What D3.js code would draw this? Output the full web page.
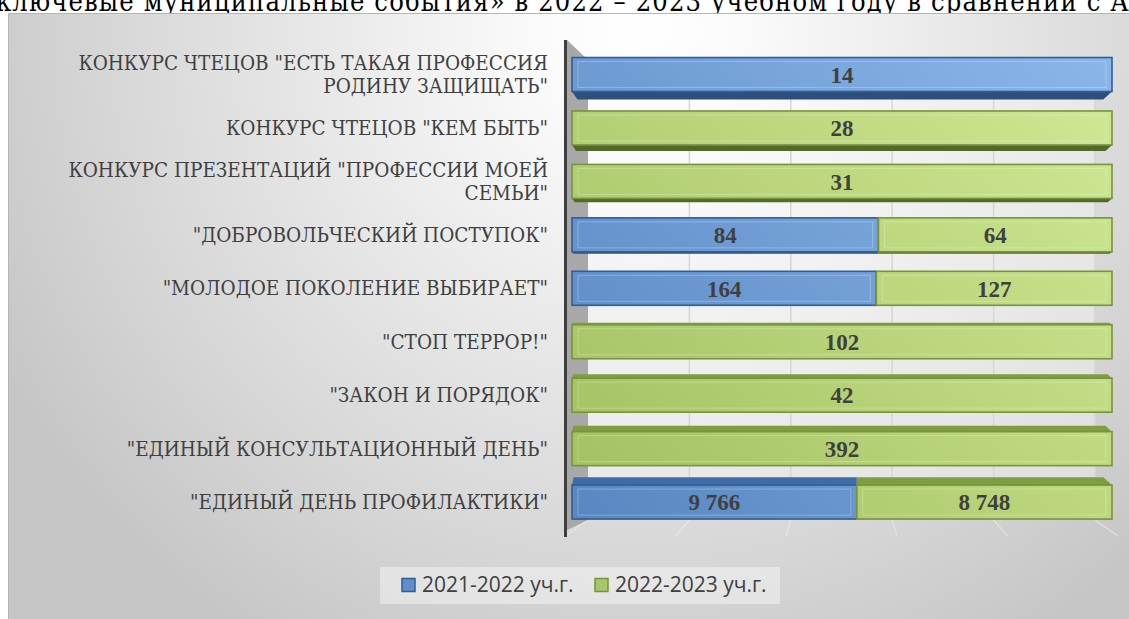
<!DOCTYPE html>
<html>
<head>
<meta charset="utf-8">
<script src="https://cdn.jsdelivr.net/npm/d3@7"></script>
<style>
    html, body { margin: 0; padding: 0; background: #ffffff; overflow: hidden; }
    .cyrSerif { font-family: 'DejaVu Serif', serif; font-stretch: condensed; }
    .numSerif { font-family: 'Liberation Serif', 'DejaVu Serif', serif; }
</style>
</head>
<body>
<div id="chart"></div>
<script>
//
// 100% stacked 3D-style bar chart
//

var categories = [
    'КОНКУРС ЧТЕЦОВ "ЕСТЬ ТАКАЯ ПРОФЕССИЯ|РОДИНУ ЗАЩИЩАТЬ"',
    'КОНКУРС ЧТЕЦОВ "КЕМ БЫТЬ"',
    'КОНКУРС ПРЕЗЕНТАЦИЙ "ПРОФЕССИИ МОЕЙ|СЕМЬИ"',
    '"ДОБРОВОЛЬЧЕСКИЙ ПОСТУПОК"',
    '"МОЛОДОЕ ПОКОЛЕНИЕ ВЫБИРАЕТ"',
    '"СТОП ТЕРРОР!"',
    '"ЗАКОН И ПОРЯДОК"',
    '"ЕДИНЫЙ КОНСУЛЬТАЦИОННЫЙ ДЕНЬ"',
    '"ЕДИНЫЙ ДЕНЬ ПРОФИЛАКТИКИ"'
];
var values2122 = [14, null, null, 84, 164, null, null, null, 9766];
var values2223 = [null, 28, 31, 64, 127, 102, 42, 392, 8748];
var seriesNames = ['2021-2022 уч.г.', '2022-2023 уч.г.'];
var gridTicks = [0.2, 0.4, 0.6, 0.8, 1];
var titleText = 'ключевые муниципальные события» в 2022 – 2023 учебном году в сравнении с АГ';

const _width = 1129;
const _height = 619;
const _frontLeft = 572;
const _frontRight = 1112;
const _backLeft = 588;
const _backRight = 1095;
const _backTop = 57;
const _backBottom = 520;
const _bandTop = 47.8;
const _bandBottom = 528.8;
const _midY = 288;

var _blue = { fill: 'url(#gradBlue)', stroke: '#2f5e99', side: '#2e4e7c', top: '#3f6ba6' };
var _green = { fill: 'url(#gradGreen)', stroke: '#77943a', side: '#55682b', top: '#7f9d43' };

var fmt = d3.formatLocale({ decimal: ',', thousands: '\u00a0', grouping: [3], currency: ['', ''] }).format(',d');

var svg = d3.select('#chart').append('svg')
    .attr('width', _width)
    .attr('height', _height);

var defs = svg.append('defs');

var bg = defs.append('radialGradient').attr('id', 'bgGrad')
    .attr('gradientUnits', 'userSpaceOnUse')
    .attr('cx', 640).attr('cy', 30).attr('r', 720);
bg.append('stop').attr('offset', 0).attr('stop-color', '#ffffff');
bg.append('stop').attr('offset', 0.15).attr('stop-color', '#fafafa');
bg.append('stop').attr('offset', 0.75).attr('stop-color', '#d6d6d6');
bg.append('stop').attr('offset', 1).attr('stop-color', '#c6c6c6');

function barGradient(id, c0, c1) {
    var g = defs.append('linearGradient').attr('id', id)
        .attr('gradientUnits', 'userSpaceOnUse')
        .attr('x1', _frontLeft).attr('y1', _bandBottom)
        .attr('x2', _frontRight).attr('y2', _backTop);
    g.append('stop').attr('offset', 0).attr('stop-color', c0);
    g.append('stop').attr('offset', 1).attr('stop-color', c1);
}
barGradient('gradBlue', '#5886c0', '#8ab6ea');
barGradient('gradGreen', '#a2bf60', '#d0e995');

// title line (cut at the top of the page, as in the source document)
svg.append('text')
    .attr('class', 'cyrSerif')
    .attr('x', -4)
    .attr('y', 11)
    .attr('textLength', 1150)
    .attr('lengthAdjust', 'spacing')
    .attr('font-size', 27)
    .attr('fill', '#000')
    .text(titleText);

// chart frame
svg.append('rect')
    .attr('x', 8.5).attr('y', 13.5)
    .attr('width', _width).attr('height', _height)
    .attr('fill', 'url(#bgGrad)')
    .attr('stroke', '#b5b5b5');

var y = d3.scaleBand()
    .domain(d3.range(categories.length))
    .range([_bandTop, _bandBottom])
    .paddingInner(0.364)
    .paddingOuter(0.182);

var xFront = d3.scaleLinear().domain([0, 1]).range([_frontLeft, _frontRight]);
var xBack = d3.scaleLinear().domain([0, 1]).range([_backLeft, _backRight]);

// back wall + grid
svg.append('rect')
    .attr('x', _backLeft).attr('y', _backTop)
    .attr('width', _backRight - _backLeft).attr('height', _backBottom - _backTop)
    .attr('fill', '#ffffff').attr('opacity', 0.35);

svg.append('g').selectAll('line')
    .data(gridTicks)
    .enter().append('line')
    .attr('x1', function (d) { return xBack(d); })
    .attr('x2', function (d) { return xBack(d); })
    .attr('y1', _backTop).attr('y2', _backBottom)
    .attr('stroke', '#d6d6d6').attr('stroke-width', 1.5);

// floor lines
svg.append('g').selectAll('line')
    .data([0].concat(gridTicks))
    .enter().append('line')
    .attr('x1', function (d) { return xBack(d); })
    .attr('y1', _backBottom)
    .attr('x2', function (d) { return 840 + (xBack(d) - 840) * 1.09; })
    .attr('y2', 536)
    .attr('stroke', '#ececec').attr('stroke-width', 1.2)
    .attr('opacity', 0.7);

// side wall and axis
svg.append('polygon')
    .attr('points', [[567, 40], [588, 60], [588, _backBottom], [567, 530]].join(' '))
    .attr('fill', '#a8a8a8');
svg.append('line')
    .attr('x1', 565.5).attr('x2', 565.5)
    .attr('y1', 40).attr('y2', 537)
    .attr('stroke', '#3f3f3f').attr('stroke-width', 3);

// build segments
var rows = categories.map(function (c, i) {
    var a = values2122[i] || 0, b = values2223[i] || 0;
    var total = a + b;
    var segs = [];
    if (values2122[i] != null) segs.push({ v: a, x0: 0, x1: a / total, style: _blue });
    if (values2223[i] != null) segs.push({ v: b, x0: a / total, x1: 1, style: _green });
    return { i: i, segs: segs };
});

var bh = y.bandwidth();

rows.forEach(function (row) {
    var top = y(row.i);
    var bottom = top + bh;
    var cy = top + bh / 2;
    var depth = (cy - _midY) * 0.037;
    var g = svg.append('g').attr('class', 'bar');

    row.segs.forEach(function (s) {
        var x0 = xFront(s.x0), x1 = xFront(s.x1);
        var insL = s.x0 == 0 ? Math.abs(depth) * 0.7 : 0;
        var insR = s.x1 == 1 ? Math.abs(depth) * 1.1 : 0;
        if (depth < -0.5) {
            g.append('polygon')
                .attr('points', [[x0, bottom], [x1, bottom], [x1 - insR, bottom - depth], [x0 + insL, bottom - depth]].join(' '))
                .attr('fill', s.style.side);
        } else if (depth > 0.5) {
            g.append('polygon')
                .attr('points', [[x0 + insL * 0.3, top - depth], [x1 - insR, top - depth], [x1, top], [x0, top]].join(' '))
                .attr('fill', s.style.top);
        }
        g.append('rect')
            .attr('x', x0).attr('y', top)
            .attr('width', x1 - x0).attr('height', bh)
            .attr('fill', s.style.fill)
            .attr('stroke', s.style.stroke)
            .attr('stroke-width', 1.6);
        g.append('rect')
            .attr('x', x0 + 6).attr('y', top + 4)
            .attr('width', Math.max(0, x1 - x0 - 12)).attr('height', bh - 8)
            .attr('fill', 'none')
            .attr('stroke', '#ffffff')
            .attr('stroke-opacity', 0.25);
        g.append('text')
            .attr('class', 'numSerif')
            .attr('x', (x0 + x1) / 2)
            .attr('y', cy)
            .attr('dy', '0.36em')
            .attr('text-anchor', 'middle')
            .attr('font-weight', 'bold')
            .attr('font-size', 23)
            .attr('fill', '#404040')
            .text(fmt(s.v));
    });
});

// category labels
var labels = svg.append('g').selectAll('text')
    .data(categories)
    .enter().append('text')
    .attr('class', 'cyrSerif')
    .attr('text-anchor', 'end')
    .attr('font-size', 20.5)
    .attr('fill', '#404040');

labels.each(function (d, i) {
    var lines = d.split('|');
    var cy = y(i) + bh / 2;
    var t = d3.select(this);
    lines.forEach(function (ln, k) {
        t.append('tspan')
            .attr('x', 548)
            .attr('y', cy + (k - (lines.length - 1) / 2) * 23)
            .attr('dy', '0.35em')
            .text(ln);
    });
});

// legend
var legend = svg.append('g');
legend.append('rect')
    .attr('x', 380).attr('y', 567)
    .attr('width', 400).attr('height', 37)
    .attr('fill', '#ffffff').attr('opacity', 0.4);

var legendX = [402, 595];
var legendColors = [['#5f8fca', '#2f5e99'], ['#a9c66a', '#77943a']];
seriesNames.forEach(function (name, i) {
    legend.append('rect')
        .attr('x', legendX[i]).attr('y', 578.5)
        .attr('width', 13).attr('height', 13)
        .attr('fill', legendColors[i][0])
        .attr('stroke', legendColors[i][1])
        .attr('stroke-width', 1.5);
    legend.append('text')
        .attr('x', legendX[i] + 20)
        .attr('y', 585)
        .attr('dy', '0.35em')
        .attr('font-family', '"Open Sans", "Noto Sans", sans-serif')
        .attr('font-size', 21)
        .attr('fill', '#404040')
        .text(name);
});
</script>
</body>
</html>
